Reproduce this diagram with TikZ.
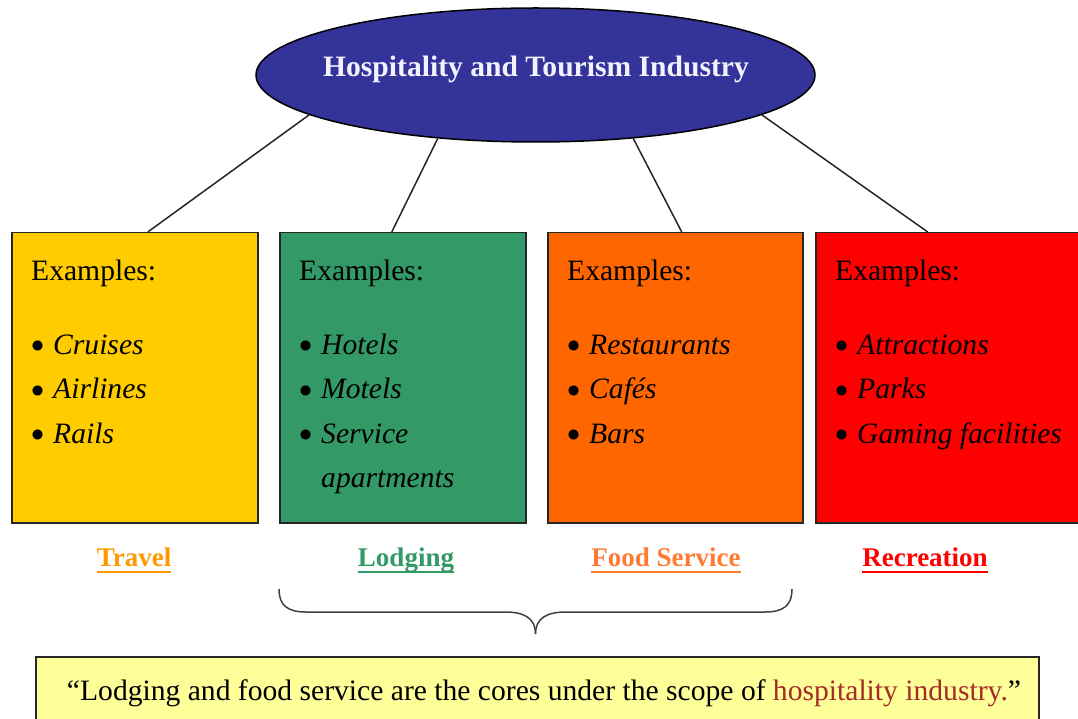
\documentclass[tikz,border=0pt]{standalone}
\usepackage{fontspec}
\usepackage{graphicx}
\setmainfont{Liberation Serif}
\usetikzlibrary{shapes.geometric}
\definecolor{ellc}{HTML}{333399}
\definecolor{travelc}{HTML}{FFCC00}
\definecolor{lodgec}{HTML}{339966}
\definecolor{foodc}{HTML}{FF6600}
\definecolor{recc}{HTML}{FF0000}
\definecolor{quotec}{HTML}{FFFF99}
\definecolor{travell}{HTML}{FF9900}
\definecolor{foodl}{HTML}{FF7A33}
\definecolor{hospc}{HTML}{A52A2A}
\definecolor{titlec}{HTML}{F2F2FF}
\newcommand\myul[1]{\setbox0\hbox{#1}\rlap{\rule[-7pt]{\wd0}{2.5pt}}\box0}
\newcommand\mybul{\raisebox{1.5pt}{\scalebox{1.05}{$\bullet$}}}
\begin{document}
\begin{tikzpicture}[x=1pt,y=-1pt,
  catbox/.style={draw=black!85, line width=1.5pt, anchor=north west, minimum height=290pt, inner sep=0pt},
  boxtext/.style={anchor=base west, inner sep=0pt, font=\fontsize{29.6pt}{44.5pt}\selectfont, align=left},
  catlabel/.style={anchor=base, inner sep=0pt, font=\fontsize{27pt}{30pt}\selectfont\bfseries},
  conn/.style={draw=black!85, line width=1.5pt},
]
\useasboundingbox (0,0) rectangle (1078,719);
\fill[white] (0,0) rectangle (1078,719);

% top ellipse
\node[ellipse, draw=black, line width=1.5pt, fill=ellc, minimum width=559pt, minimum height=134pt, inner sep=0pt] (ind) at (535.5,75) {};
\node[anchor=base, inner sep=0pt, text=titlec, font=\fontsize{29.6pt}{32pt}\selectfont\bfseries] (indtext) at (536,77) {Hospitality and Tourism Industry};

% category boxes
\node[catbox, fill=travelc, minimum width=246pt] (travel) at (11,232) {};
\node[catbox, fill=lodgec, minimum width=246pt] (lodging) at (279,232) {};
\node[catbox, fill=foodc, minimum width=255pt] (food) at (547,232) {};
\node[catbox, fill=recc, minimum width=268pt] (rec) at (815,232) {};

% connectors
\draw[conn] (ind.190) -- ([xshift=13pt]travel.north);
\draw[conn] (ind.213) -- ([xshift=-11pt]lodging.north);
\draw[conn] (ind.327.5) -- ([xshift=6.5pt]food.north);
\draw[conn] (ind.350) -- ([xshift=-22pt]rec.north);

% box texts
\node[boxtext] (traveltext) at (31,280) {\begin{tabular}[t]{@{}p{22pt}@{}l@{}}\multicolumn{2}{@{}l@{}}{Examples:}\\[29.5pt]
\mybul & \textit{Cruises}\\ \mybul & \textit{Airlines}\\ \mybul & \textit{Rails}\end{tabular}};
\node[boxtext] (lodgingtext) at (299,280) {\begin{tabular}[t]{@{}p{22pt}@{}l@{}}\multicolumn{2}{@{}l@{}}{Examples:}\\[29.5pt]
\mybul & \textit{Hotels}\\ \mybul & \textit{Motels}\\ \mybul & \textit{Service}\\ & \textit{apartments}\end{tabular}};
\node[boxtext] (foodtext) at (567,280) {\begin{tabular}[t]{@{}p{22pt}@{}l@{}}\multicolumn{2}{@{}l@{}}{Examples:}\\[29.5pt]
\mybul & \textit{Restaurants}\\ \mybul & \textit{Cafés}\\ \mybul & \textit{Bars}\end{tabular}};
\node[boxtext] (rectext) at (835,280) {\begin{tabular}[t]{@{}p{22pt}@{}l@{}}\multicolumn{2}{@{}l@{}}{Examples:}\\[29.5pt]
\mybul & \textit{Attractions}\\ \mybul & \textit{Parks}\\ \mybul & \textit{Gaming facilities}\end{tabular}};

% category labels
\node[catlabel, text=travell] (travell) at (134,566) {\myul{Travel}};
\node[catlabel, text=lodgec] (lodgingl) at (406,566) {\myul{Lodging}};
\node[catlabel, text=foodl] (foodl) at (666,566) {\myul{Food Service}};
\node[catlabel, text=recc] (recl) at (925,566) {\myul{Recreation}};

% brace
\coordinate (bl) at (279,589);
\coordinate (br) at (792,589);
\coordinate (btip) at (535.5,634);
\draw[draw=black!75, line width=1.5pt] (bl) .. controls (279,605) and (287,612) .. (306,612) -- (505,612) .. controls (524,612) and (535.5,618) .. (btip);
\draw[draw=black!75, line width=1.5pt] (br) .. controls (792,605) and (784,612) .. (765,612) -- (566,612) .. controls (547,612) and (535.5,618) .. (btip);

% quote box
\node[draw=black!85, line width=1.5pt, fill=quotec, anchor=north west, minimum width=1003pt, minimum height=90pt, inner sep=0pt] (quote) at (35,656) {};
\node[anchor=base, inner sep=0pt, font=\fontsize{29.6pt}{32pt}\selectfont] (quotetext) at (544,700) {“Lodging and food service are the cores under the scope of \textcolor{hospc}{hospitality industry.}”};
\end{tikzpicture}
\end{document}
